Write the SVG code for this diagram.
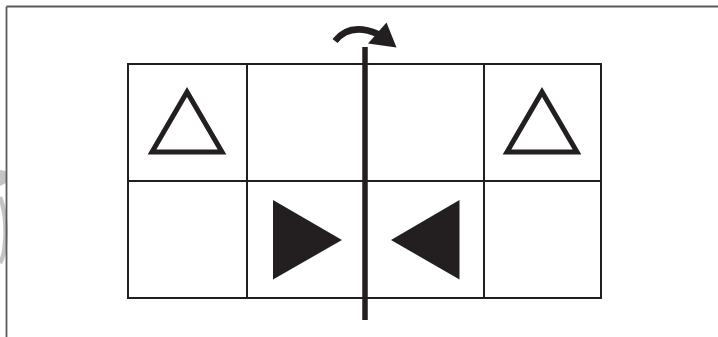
<svg xmlns="http://www.w3.org/2000/svg" width="718" height="337" viewBox="0 0 718 337">
<style>
.frame{stroke:#5a5a5a;stroke-width:1.8;fill:none}
.grid{stroke:#231f20;stroke-width:2;fill:none}
.open{fill:none;stroke:#231f20;stroke-width:5;stroke-linejoin:miter}
.solid{fill:#231f20;stroke:none}
.wm{fill:#c4c4c4;stroke:none}
</style>
<rect width="718" height="337" fill="#ffffff"/>
<g id="watermark">
<polygon class="wm" points="0,170 6,171 6,183 0,186"/>
<path d="M0 197 Q 6 212 5.5 235 Q 5 255 0 263" fill="none" stroke="#c4c4c4" stroke-width="4.5"/>
</g>
<g id="frame">
<line class="frame" x1="6.5" y1="6.5" x2="718" y2="6.5"/>
<line class="frame" x1="6.5" y1="6.5" x2="6.5" y2="337"/>
</g>
<g id="grid">
<rect class="grid" x="128" y="64" width="473" height="234"/>
<line class="grid" x1="128" y1="181" x2="601" y2="181"/>
<line class="grid" x1="247" y1="64" x2="247" y2="298"/>
<line class="grid" x1="484" y1="64" x2="484" y2="298"/>
</g>
<g id="cell-tl"><polygon class="open" points="152,152 222,152 187,92"/></g>
<g id="cell-tr"><polygon class="open" points="507,152 577,152 542,92"/></g>
<g id="cell-bl2"><polygon class="solid" points="273,200 342,240 273,279.5"/></g>
<g id="cell-br2"><polygon class="solid" points="459.5,200 391,240 459.5,279.5"/></g>
<g id="connectors">
<line x1="365" y1="47" x2="365" y2="320" stroke="#231f20" stroke-width="5.5"/>
<path d="M335 41 Q 350 22 378 34" fill="none" stroke="#231f20" stroke-width="6.5"/>
<polygon class="solid" points="386.5,22.5 396.5,47.5 368,43.5"/>
</g>
</svg>
